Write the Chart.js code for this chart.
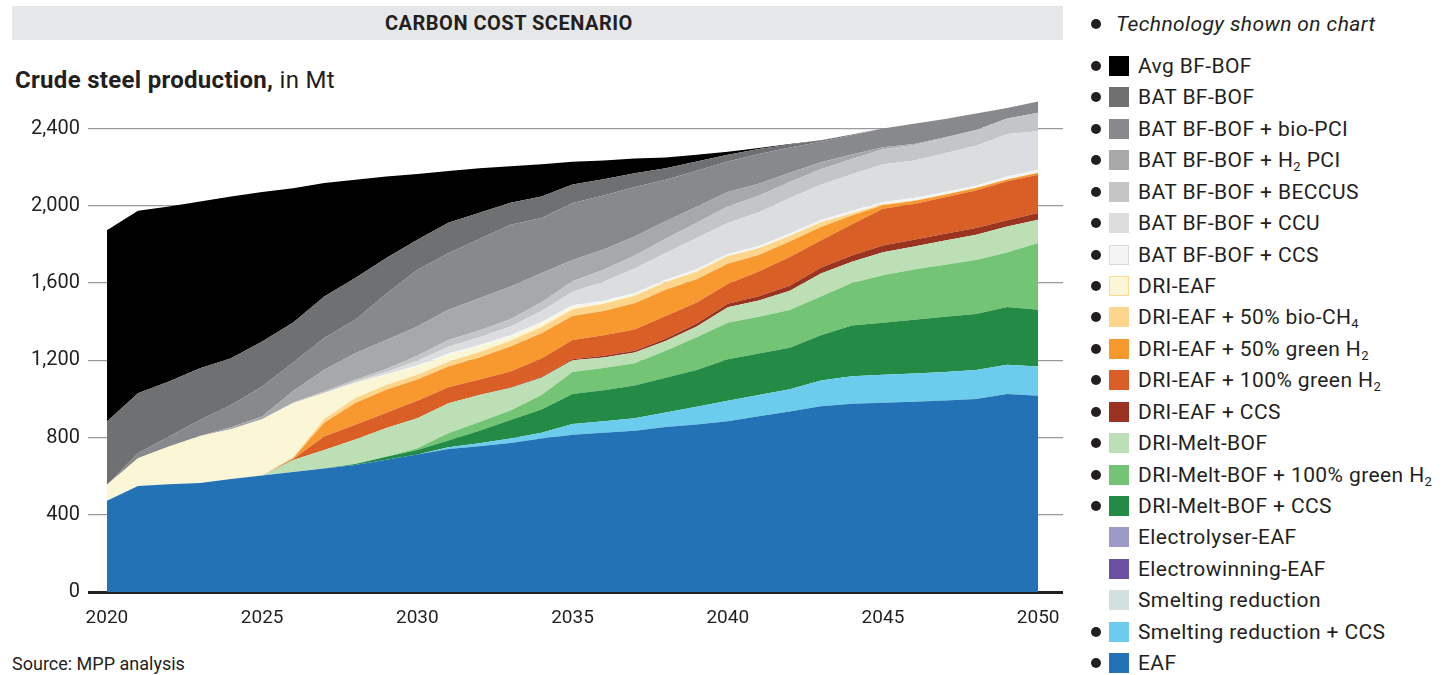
<!DOCTYPE html>
<html>
<head>
<meta charset="utf-8">
<script src="https://cdn.jsdelivr.net/npm/chart.js@4.4.1/dist/chart.umd.min.js"></script>
<style>
  body { margin: 0; background: #fff; font-family: Roboto, sans-serif; color: #231f20; }
  #page { position: relative; width: 1454px; height: 675px; overflow: hidden; }
  #titleBar { position: absolute; left: 12px; top: 6px; width: 1051px; height: 34px; background: #e6e7e8; }
  #titleBar span { position: absolute; left: 373px; top: 0; line-height: 34px; font-weight: bold; font-size: 20px; letter-spacing: 0.5px; }
  #subtitle { position: absolute; left: 15px; top: 66px; font-size: 24px; letter-spacing: 0.3px; }
  #chartBox { position: absolute; left: 0; top: 0; width: 1070px; height: 640px; }
  #source { position: absolute; left: 12px; top: 653px; font-size: 18px; }
  .row { position: absolute; left: 0; height: 24px; line-height: 24px; font-size: 21px; letter-spacing: 0.4px; white-space: nowrap; }
  .dot { position: absolute; left: 1091px; top: 7px; width: 10px; height: 10px; border-radius: 50%; background: #231f20; }
  .sw { position: absolute; left: 1109px; top: 2px; width: 20px; height: 20px; box-sizing: border-box; }
  .txt { position: absolute; left: 1138px; top: 0; }
  sub { font-size: 13px; vertical-align: -4px; line-height: 0; }
</style>
</head>
<body>
<div id="page">
  <div id="titleBar"><span>CARBON COST SCENARIO</span></div>
  <div id="subtitle"><b>Crude steel production,</b> in Mt</div>
  <div id="chartBox"><canvas id="steelChart"></canvas></div>
  <div id="source">Source: MPP analysis</div>
  <div id="legend"></div>
</div>
<script>
// Years on the x axis
const years = [2020, 2021, 2022, 2023, 2024, 2025, 2026, 2027, 2028, 2029, 2030,
               2031, 2032, 2033, 2034, 2035, 2036, 2037, 2038, 2039, 2040,
               2041, 2042, 2043, 2044, 2045, 2046, 2047, 2048, 2049, 2050];
const xTicks = [2020, 2025, 2030, 2035, 2040, 2045, 2050];
const yTicks = [0, 400, 800, 1200, 1600, 2000, 2400];

// Production by technology, Mt
const avgBfBof   = [990, 945, 907, 864, 838, 775, 695, 587, 509, 422, 341, 268, 231, 189, 166, 118, 97, 76, 55, 35, 15, 6, 2, 0, 0, 0, 0, 0, 0, 0, 0];
const batBfBof   = [328, 311, 285, 268, 242, 233, 208, 216, 216, 185, 155, 157, 136, 114, 112, 95, 85, 72, 60, 48, 35, 25, 16, 8, 3, 0, 0, 0, 0, 0, 0];
const batBioPci  = [0, 26, 52, 83, 116, 155, 147, 164, 173, 240, 294, 293, 306, 320, 286, 295, 279, 256, 215, 187, 158, 155, 130, 106, 100, 97, 105, 95, 85, 55, 58];
const batH2Pci   = [0, 0, 0, 0, 10, 14, 60, 113, 138, 150, 152, 157, 167, 169, 150, 110, 105, 98, 90, 82, 75, 62, 49, 36, 23, 10, 5, 3, 2, 0, 0];
const batBeccus  = [0, 0, 0, 0, 0, 0, 3, 7, 10, 15, 25, 35, 36, 38, 45, 55, 62, 68, 74, 80, 86, 85, 83, 81, 80, 78, 80, 80, 80, 80, 95];
const batCcu     = [0, 0, 0, 0, 0, 0, 0, 0, 6, 12, 25, 35, 40, 45, 58, 70, 98, 126, 139, 162, 161, 175, 183, 182, 189, 195, 195, 200, 205, 220, 200];
const batCcs     = [0, 0, 0, 0, 0, 0, 0, 0, 0, 3, 5, 7, 8, 9, 10, 10, 10, 10, 10, 10, 10, 12, 12, 12, 12, 12, 12, 12, 12, 14, 15];
const driEaf     = [82, 144, 195, 243, 258, 292, 282, 135, 78, 53, 43, 35, 28, 20, 15, 10, 6, 4, 2, 1, 0, 0, 0, 0, 0, 0, 0, 0, 0, 0, 0];
const driBioCh4  = [0, 0, 0, 0, 0, 0, 2, 20, 26, 25, 25, 25, 28, 30, 33, 35, 38, 40, 40, 40, 40, 35, 30, 25, 12, 5, 3, 2, 2, 1, 0];
const driH2Half  = [0, 0, 0, 0, 0, 0, 5, 71, 113, 119, 110, 108, 115, 129, 130, 125, 125, 135, 135, 120, 105, 85, 80, 70, 45, 18, 15, 13, 12, 10, 11];
const driH2Full  = [0, 0, 0, 0, 0, 0, 5, 69, 76, 78, 90, 82, 80, 83, 96, 100, 107, 110, 118, 110, 102, 128, 149, 140, 162, 190, 185, 190, 195, 202, 198];
const driCcs     = [0, 0, 0, 0, 0, 0, 0, 0, 0, 0, 0, 0, 0, 3, 4, 5, 8, 10, 12, 15, 18, 22, 26, 30, 33, 35, 35, 35, 35, 32, 35];
const dmb        = [0, 0, 0, 0, 0, 0, 62, 96, 127, 150, 155, 156, 140, 116, 90, 60, 55, 55, 50, 55, 80, 85, 100, 120, 110, 120, 120, 125, 130, 134, 121];
const dmbH2      = [0, 0, 0, 0, 0, 0, 0, 0, 0, 0, 10, 37, 45, 49, 75, 115, 115, 115, 140, 170, 190, 190, 195, 200, 220, 245, 260, 270, 280, 283, 345];
const dmbCcs     = [0, 0, 0, 0, 0, 0, 0, 0, 5, 15, 23, 35, 65, 96, 120, 155, 160, 170, 180, 190, 215, 215, 215, 235, 262, 270, 278, 285, 290, 299, 294];
const electrolyserEaf   = [0, 0, 0, 0, 0, 0, 0, 0, 0, 0, 0, 0, 0, 0, 0, 0, 0, 0, 0, 0, 0, 0, 0, 0, 0, 0, 0, 0, 0, 0, 0];
const electrowinningEaf = [0, 0, 0, 0, 0, 0, 0, 0, 0, 0, 0, 0, 0, 0, 0, 0, 0, 0, 0, 0, 0, 0, 0, 0, 0, 0, 0, 0, 0, 0, 0];
const smelting   = [0, 0, 0, 0, 0, 0, 0, 0, 0, 0, 0, 0, 0, 0, 0, 0, 0, 0, 0, 0, 0, 0, 0, 0, 0, 0, 0, 0, 0, 0, 0];
const smeltingCcs = [0, 0, 0, 0, 0, 0, 0, 0, 0, 0, 0, 10, 15, 23, 30, 55, 60, 65, 75, 92, 105, 110, 115, 133, 143, 145, 147, 148, 150, 151, 152];
const eaf        = [473, 549, 558, 565, 585, 603, 622, 640, 658, 685, 712, 740, 755, 772, 795, 815, 825, 835, 855, 868, 885, 910, 935, 962, 975, 980, 985, 992, 1000, 1026, 1016];

// Legend order (top to bottom)
const techNames = ['Avg BF-BOF', 'BAT BF-BOF', 'BAT BF-BOF + bio-PCI', 'BAT BF-BOF + H2 PCI',
  'BAT BF-BOF + BECCUS', 'BAT BF-BOF + CCU', 'BAT BF-BOF + CCS', 'DRI-EAF',
  'DRI-EAF + 50% bio-CH4', 'DRI-EAF + 50% green H2', 'DRI-EAF + 100% green H2', 'DRI-EAF + CCS',
  'DRI-Melt-BOF', 'DRI-Melt-BOF + 100% green H2', 'DRI-Melt-BOF + CCS', 'Electrolyser-EAF',
  'Electrowinning-EAF', 'Smelting reduction', 'Smelting reduction + CCS', 'EAF'];
const techValues = [avgBfBof, batBfBof, batBioPci, batH2Pci, batBeccus, batCcu, batCcs, driEaf,
  driBioCh4, driH2Half, driH2Full, driCcs, dmb, dmbH2, dmbCcs, electrolyserEaf,
  electrowinningEaf, smelting, smeltingCcs, eaf];
const techColors = ['#000000', '#6f7072', '#88898c', '#a7a8aa', '#c4c5c7', '#dcdddf', '#f3f4f4', '#fbf7d6',
  '#fdd68c', '#f7992e', '#d95f26', '#9a3320', '#bcdfb5', '#74c476', '#238b45', '#9e9ac8',
  '#6a51a3', '#d3dfe0', '#6bcced', '#2372b5'];
const shownOnChart = [true, true, true, true, true, true, true, true, true, true, true, true,
  true, true, true, false, false, false, true, true];

// HTML legend
const legendEl = document.getElementById('legend');
function withSubs(s) {
  return s.replace('CH4', 'CH<sub>4</sub>').replace('H2', 'H<sub>2</sub>');
}
let head = '<div class="row" style="top:12px"><span class="dot" style="left:1091px"></span>' +
  '<span class="txt" style="left:1116px;font-style:italic">Technology shown on chart</span></div>';
techNames.forEach((name, i) => {
  const top = 66 + i * 31.42 - 12;
  let border = '';
  if (name === 'BAT BF-BOF + CCS') border = 'border:1px solid #d9dadb;';
  if (name === 'DRI-EAF') border = 'border:1px solid #fcdc94;';
  head += '<div class="row" style="top:' + top.toFixed(1) + 'px">' +
    (shownOnChart[i] ? '<span class="dot"></span>' : '') +
    '<span class="sw" style="background:' + techColors[i] + ';' + border + '"></span>' +
    '<span class="txt">' + withSubs(name) + '</span></div>';
});
legendEl.innerHTML = head;

// Datasets: stacked bottom (EAF) to top (Avg BF-BOF)
const datasets = [];
for (let i = techNames.length - 1; i >= 0; i--) {
  datasets.push({
    label: techNames[i],
    data: techValues[i].map((v, k) => ({ x: years[k], y: v })),
    backgroundColor: techColors[i],
    borderWidth: 0,
    pointRadius: 0,
    fill: datasets.length === 0 ? 'origin' : '-1'
  });
}

Chart.defaults.font.family = 'Roboto, sans-serif';
Chart.defaults.color = '#231f20';

new Chart(document.getElementById('steelChart'), {
  type: 'line',
  data: { datasets: datasets },
  options: {
    responsive: true,
    maintainAspectRatio: false,
    animation: false,
    layout: { padding: { top: 90, right: 7, left: 0, bottom: 0 } },
    elements: { line: { tension: 0 } },
    plugins: { legend: { display: false }, tooltip: { enabled: false } },
    scales: {
      x: {
        type: 'linear',
        min: 2019.39,
        max: 2050.8,
        grid: { display: false },
        border: { display: false },
        ticks: { padding: 7, font: { size: 19 }, maxRotation: 0, callback: v => String(v) },
        afterBuildTicks: s => { s.ticks = xTicks.map(v => ({ value: v })); },
        afterFit: s => { s.height = 48; }
      },
      y: {
        stacked: true,
        min: 0,
        max: 2600,
        z: 1,
        border: { display: false },
        grid: {
          drawTicks: false,
          color: c => (c.tick && c.tick.value === 0) ? '#231f20' : 'rgba(35,31,32,0.45)',
          lineWidth: c => (c.tick && c.tick.value === 0) ? 3 : 1.3
        },
        ticks: { padding: 8, font: { size: 20 }, callback: v => v.toLocaleString('en-US') },
        afterBuildTicks: s => { s.ticks = yTicks.map(v => ({ value: v })); },
        afterFit: s => { s.width = 88; }
      }
    }
  }
});
</script>
</body>
</html>
